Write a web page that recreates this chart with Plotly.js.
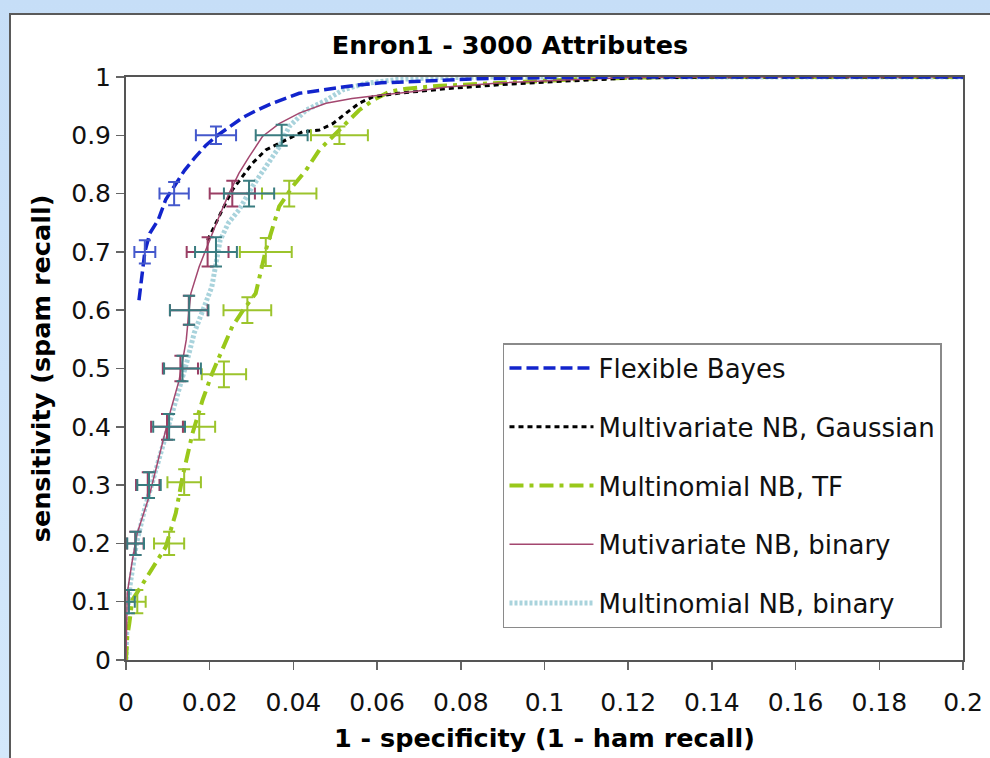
<!DOCTYPE html>
<html>
<head>
<meta charset="utf-8">
<script src="https://cdn.plot.ly/plotly-3.0.1.min.js"></script>
<style>
  html, body { margin: 0; padding: 0; width: 990px; height: 758px; overflow: hidden;
    background: linear-gradient(180deg, #c6def7 0%, #d4e8fb 100%); }
  #frame { position: absolute; left: 9px; top: 13px; width: 981px; height: 745px;
    border-top: 2px solid #5a5a5a; border-left: 2px solid #5a5a5a; background: #fff; }
  #chart { width: 979px; height: 743px; }
</style>
</head>
<body>
<div id="frame"><div id="chart"></div></div>
<script>
// ---- ROC curves (x = 1 - specificity, y = sensitivity) ----
const fbX = [0.0031,0.0036,0.0045,0.0057,0.0077,0.0095,0.0119,0.014,0.0165,0.019,0.0215,0.025,0.0278,0.031,0.035,0.0414,0.049,0.055,0.061,0.07,0.084,0.1,0.12,0.2];
const fbY = [0.617,0.65,0.70,0.732,0.755,0.79,0.818,0.84,0.862,0.882,0.898,0.915,0.93,0.942,0.955,0.972,0.98,0.986,0.99,0.993,0.997,0.999,1,1];

const gaX = [0.0195,0.021,0.023,0.0254,0.0278,0.0302,0.0334,0.0374,0.0422,0.0462,0.0494,0.0526,0.0557,0.059,0.065,0.0765,0.09,0.105,0.12,0.14,0.2];
const gaY = [0.72,0.743,0.772,0.806,0.829,0.852,0.875,0.889,0.906,0.909,0.92,0.938,0.955,0.966,0.972,0.98,0.987,0.993,0.998,1,1];

const tfX = [0,0.0003,0.0008,0.0015,0.0035,0.0055,0.0075,0.0095,0.0119,0.0135,0.0159,0.0183,0.0206,0.023,0.0254,0.028,0.031,0.0334,0.0366,0.0398,0.043,0.0462,0.0494,0.0526,0.0557,0.059,0.063,0.067,0.075,0.09,0.11,0.13,0.2];
const tfY = [0,0.04,0.063,0.103,0.125,0.149,0.17,0.194,0.252,0.314,0.389,0.446,0.492,0.532,0.572,0.6,0.629,0.703,0.778,0.812,0.84,0.875,0.898,0.92,0.943,0.96,0.975,0.98,0.985,0.99,0.997,1,1];

const mbX = [0,0.0001,0.0003,0.0015,0.0027,0.0055,0.0086,0.0107,0.0127,0.0144,0.015,0.0155,0.0175,0.0199,0.0222,0.0246,0.027,0.0294,0.0326,0.0366,0.0414,0.0478,0.054,0.061,0.069,0.0765,0.09,0.105,0.12,0.14,0.2];
const mbY = [0,0.05,0.115,0.17,0.218,0.28,0.372,0.429,0.48,0.549,0.595,0.629,0.675,0.72,0.76,0.80,0.835,0.863,0.898,0.92,0.938,0.955,0.963,0.969,0.975,0.983,0.99,0.995,0.999,1,1];

const nbX = [0,0.0003,0.001,0.0025,0.0045,0.0065,0.009,0.0115,0.0127,0.0145,0.0163,0.0185,0.0205,0.0215,0.0225,0.0245,0.027,0.0302,0.0334,0.0366,0.039,0.043,0.0478,0.0518,0.0573,0.065,0.075,0.09,0.2];
const nbY = [0,0.08,0.13,0.2,0.26,0.31,0.37,0.434,0.458,0.51,0.561,0.6,0.64,0.68,0.72,0.75,0.772,0.812,0.846,0.88,0.915,0.943,0.96,0.978,0.989,0.996,0.999,1,1];

// ---- error bars (centre, +/- x, +/- y) ----
const fbErrX = [0.0045,0.0115,0.0215];
const fbErrY = [0.7,0.8,0.9];
const fbErrDX = [0.0025,0.0035,0.0048];
const fbErrDY = [0.02,0.02,0.015];

const nbErrX = [0.0007,0.0023,0.0055,0.0103,0.0135,0.0151,0.0215,0.0294,0.0372];
const nbErrY = [0.1,0.2,0.3,0.4,0.5,0.6,0.7,0.8,0.9];
const nbErrDX = [0.0014,0.002,0.0028,0.0038,0.0044,0.0046,0.005,0.006,0.0062];
const nbErrDY = [0.02,0.02,0.022,0.022,0.022,0.025,0.025,0.022,0.018];

const mbErrX = [0.0022,0.0052,0.0098,0.013,0.015,0.0195,0.0254];
const mbErrY = [0.2,0.3,0.4,0.5,0.6,0.7,0.8];
const mbErrDX = [0.002,0.0028,0.0038,0.0042,0.0045,0.005,0.0054];
const mbErrDY = [0.02,0.022,0.022,0.022,0.025,0.025,0.022];

const tfErrX = [0.0027,0.0103,0.0139,0.0175,0.0234,0.029,0.0334,0.039,0.051];
const tfErrY = [0.1,0.2,0.305,0.4,0.49,0.6,0.7,0.8,0.9];
const tfErrDX = [0.002,0.0036,0.004,0.0038,0.0053,0.0057,0.0062,0.0065,0.0068];
const tfErrDY = [0.02,0.02,0.022,0.022,0.022,0.022,0.024,0.022,0.015];

// ---- ticks ----
const xTickVals = [0,0.02,0.04,0.06,0.08,0.1,0.12,0.14,0.16,0.18,0.2];
const xTickText = ["0","0.02","0.04","0.06","0.08","0.1","0.12","0.14","0.16","0.18","0.2"];
const yTickVals = [0,0.1,0.2,0.3,0.4,0.5,0.6,0.7,0.8,0.9,1];
const yTickText = ["0","0.1","0.2","0.3","0.4","0.5","0.6","0.7","0.8","0.9","1"];

const names = ["Flexible Bayes","Multivariate NB, Gaussian","Multinomial NB, TF","Mutivariate NB, binary","Multinomial NB, binary"];

const FONT = "DejaVu Sans, Liberation Sans, Arial, sans-serif";

function errTrace(x, y, dx, dy, color, group) {
  return {
    x: x, y: y, type: 'scatter', mode: 'markers', showlegend: false, hoverinfo: 'skip',
    legendgroup: group,
    marker: {size: 2, color: color},
    error_x: {type: 'data', array: dx, visible: true, color: color, thickness: 2, width: 6},
    error_y: {type: 'data', array: dy, visible: true, color: color, thickness: 2, width: 6}
  };
}

const traces = [
  {x: nbX, y: nbY, name: names[4], legendgroup: 'g5', legendrank: 5, type: 'scatter', mode: 'lines',
   line: {color: '#a9d3dc', width: 5, dash: '3px,2px'}},
  {x: tfX, y: tfY, name: names[2], legendgroup: 'g3', legendrank: 3, type: 'scatter', mode: 'lines',
   line: {color: '#99c81a', width: 4, dash: '14px,6px,4px,6px'}},
  {x: gaX, y: gaY, name: names[1], legendgroup: 'g2', legendrank: 2, type: 'scatter', mode: 'lines',
   line: {color: '#000000', width: 3, dash: '5px,4px'}},
  {x: mbX, y: mbY, name: names[3], legendgroup: 'g4', legendrank: 4, type: 'scatter', mode: 'lines',
   line: {color: '#a3476f', width: 1.5}},
  {x: fbX, y: fbY, name: names[0], legendgroup: 'g1', legendrank: 1, type: 'scatter', mode: 'lines',
   line: {color: '#1224cc', width: 3.5, dash: '12px,5px'}},
  errTrace(tfErrX, tfErrY, tfErrDX, tfErrDY, '#9cc42c', 'g3'),
  errTrace(mbErrX, mbErrY, mbErrDX, mbErrDY, '#9a3e64', 'g4'),
  errTrace(nbErrX, nbErrY, nbErrDX, nbErrDY, '#3a7c80', 'g5'),
  errTrace(fbErrX, fbErrY, fbErrDX, fbErrDY, '#4458cc', 'g1')
];

const layout = {
  width: 979, height: 743,
  margin: {l: 115, r: 27, t: 62, b: 98},
  paper_bgcolor: '#ffffff', plot_bgcolor: '#ffffff',
  font: {family: FONT, size: 25, color: '#111'},
  title: {text: 'Enron1 - 3000 Attributes', x: 0.5097, xanchor: 'center', xref: 'container',
          y: 0.9596, yanchor: 'middle', yref: 'container',
          font: {family: FONT, size: 25.5, weight: 'bold', color: '#000'}},
  xaxis: {range: [0, 0.2], tickvals: xTickVals, ticktext: xTickText,
          showgrid: false, zeroline: false, showline: true, linecolor: '#555', linewidth: 2, mirror: true,
          ticks: 'outside', ticklen: 8, tickwidth: 1.5, tickcolor: '#666', ticklabelstandoff: 11,
          tickfont: {family: FONT, size: 25, color: '#111'},
          title: {text: '1 - specificity (1 - ham recall)', standoff: 13,
                  font: {family: FONT, size: 25.5, weight: 'bold', color: '#000'}}},
  yaxis: {range: [0, 1], tickvals: yTickVals, ticktext: yTickText,
          showgrid: false, zeroline: false, showline: true, linecolor: '#555', linewidth: 2, mirror: true,
          ticks: 'outside', ticklen: 8, tickwidth: 1.5, tickcolor: '#666', ticklabelstandoff: 0,
          tickfont: {family: FONT, size: 25, color: '#111'},
          title: {text: 'sensitivity (spam recall)', standoff: 13,
                  font: {family: FONT, size: 25.5, weight: 'bold', color: '#000'}}},
  legend: {x: 0.4504, y: 0.5437, xanchor: 'left', yanchor: 'top',
           bgcolor: '#ffffff', bordercolor: '#8a8a8a', borderwidth: 1.5,
           font: {family: FONT, size: 26, color: '#111'},
           tracegroupgap: 22, itemwidth: 84, traceorder: 'grouped'},
  showlegend: true
};

Plotly.newPlot('chart', traces, layout, {displayModeBar: false, staticPlot: true});
</script>
</body>
</html>
